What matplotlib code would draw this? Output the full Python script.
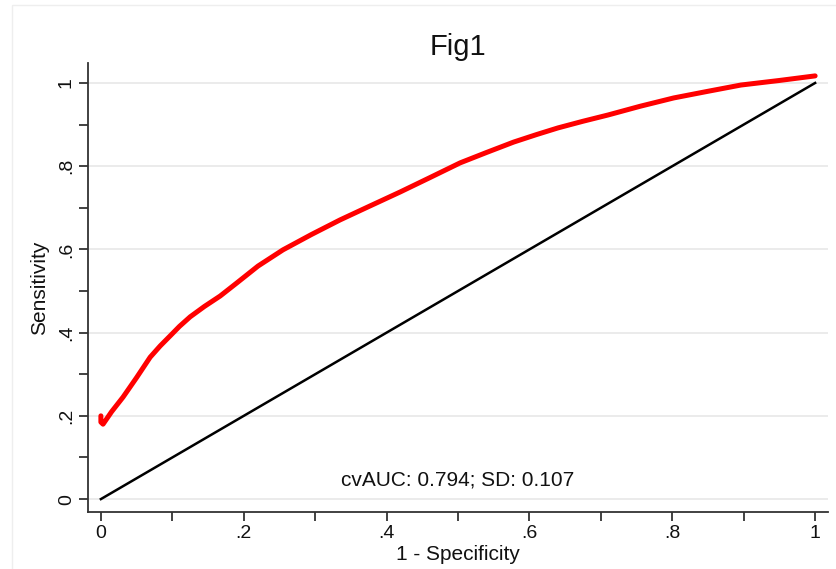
import numpy as np
import matplotlib.pyplot as plt
from matplotlib.patches import Rectangle

plt.rcParams['font.family'] = ['Liberation Sans', 'DejaVu Sans']

# ROC curve
fpr = [0.0, 0.0, 0.003, 0.015, 0.031, 0.05, 0.069, 0.083, 0.098, 0.11,
       0.125, 0.145, 0.167, 0.19, 0.22, 0.255, 0.295, 0.335, 0.375, 0.419,
       0.46, 0.503, 0.54, 0.578, 0.61, 0.640, 0.675, 0.710, 0.755, 0.802,
       0.85, 0.896, 0.95, 1.0]
tpr = [0.20, 0.185, 0.18, 0.21, 0.245, 0.292, 0.341, 0.368, 0.394, 0.415,
       0.438, 0.463, 0.488, 0.519, 0.56, 0.599, 0.636, 0.671, 0.703, 0.738,
       0.772, 0.808, 0.833, 0.858, 0.876, 0.892, 0.908, 0.923, 0.944, 0.964,
       0.98, 0.995, 1.006, 1.017]
ref_line = [0, 1]

x_ticks = [0, 0.2, 0.4, 0.6, 0.8, 1]
x_tick_labels = ['0', '.2', '.4', '.6', '.8', '1']
y_ticks = [0, 0.2, 0.4, 0.6, 0.8, 1]
y_tick_labels = ['0', '.2', '.4', '.6', '.8', '1']
minor_ticks = [0.1, 0.3, 0.5, 0.7, 0.9]

title = 'Fig1'
note = 'cvAUC: 0.794; SD: 0.107'

fig = plt.figure(figsize=(8.36, 5.69), dpi=100)
ax = fig.add_axes([0.1053, 0.1002, 0.8851, 0.7891])

# faint outer frame
fig.patches.append(Rectangle((12/836, -0.01), 1.0, 1 - 5/569 + 0.01,
                             transform=fig.transFigure, fill=False,
                             edgecolor='#eeeeee', linewidth=1))

ax.set_xlim(-0.018, 1.018)
ax.set_ylim(-0.031, 1.048)

# grid at major y ticks
for yv in y_ticks:
    ax.axhline(yv, color='#e8e8e8', linewidth=1.2, zorder=0)

ax.plot(ref_line, ref_line, color='black', linewidth=1.8, zorder=2)
ax.plot(fpr, tpr, color='#ff0000', linewidth=3.6, solid_capstyle='round',
        solid_joinstyle='round', zorder=3)

ax.text(0.5, 0.046, note, ha='center', va='center', fontsize=15,
        color='#111111')

ax.spines['top'].set_visible(False)
ax.spines['right'].set_visible(False)
for s in ['left', 'bottom']:
    ax.spines[s].set_color('#333333')
    ax.spines[s].set_linewidth(1.3)

ax.set_xticks(x_ticks)
ax.set_xticklabels(x_tick_labels)
ax.set_yticks(y_ticks)
ax.set_yticklabels(y_tick_labels, rotation=90, va='center')
ax.set_xticks(minor_ticks, minor=True)
ax.set_yticks(minor_ticks, minor=True)
ax.tick_params(which='both', direction='out', length=6.5, width=1.3,
               color='#333333', labelsize=14, pad=3, labelcolor='#111111')

ax.set_xlabel('1 - Specificity', fontsize=15, labelpad=2, color='#111111')
ax.set_ylabel('Sensitivity', fontsize=15, labelpad=6, color='#111111')
ax.set_title(title, fontsize=21, pad=6, color='#111111')

fig.savefig('out.png', dpi=100, facecolor='white')
